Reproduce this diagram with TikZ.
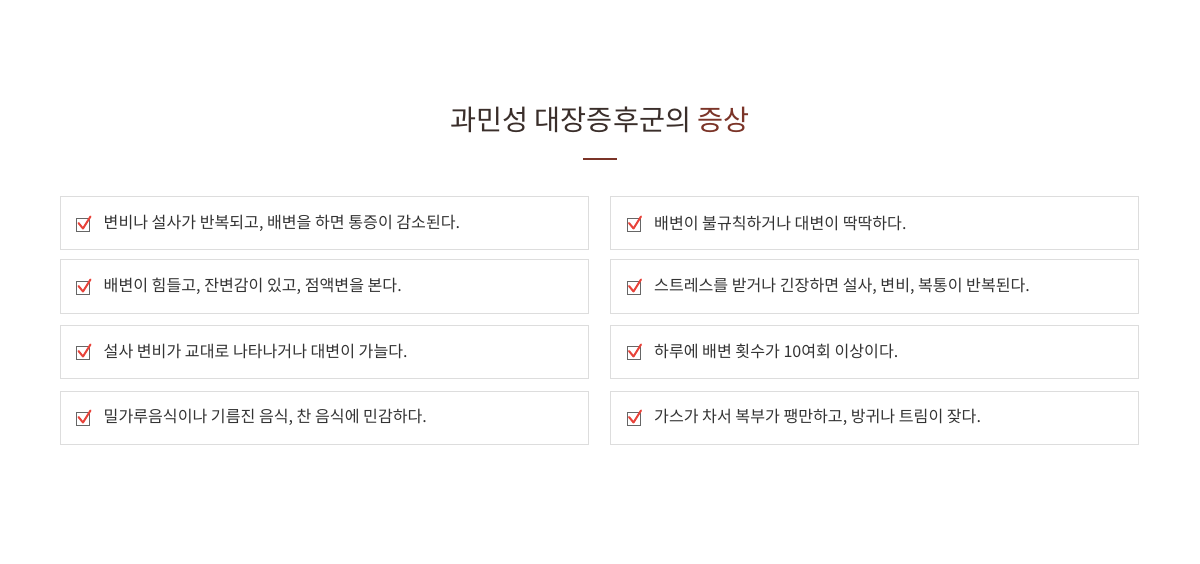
\documentclass[tikz,border=0pt]{standalone}
\usepackage{fontspec}
\setmainfont{Noto Sans CJK KR}
\newfontfamily\krfont{Noto Sans CJK KR}
\definecolor{txt}{HTML}{333333}
\definecolor{ttl}{HTML}{3A2E2A}
\definecolor{accent}{HTML}{7B3428}
\definecolor{boxline}{HTML}{DDDDDD}
\definecolor{chkred}{HTML}{E8433A}
\definecolor{chkgray}{HTML}{666666}
\begin{document}
\begin{tikzpicture}[x=1pt,y=-1pt,
  itembox/.style={draw=boxline,line width=1pt,minimum width=528pt,minimum height=53pt,inner sep=0pt},
  itemtext/.style={anchor=west,text=txt,font=\krfont\fontsize{16.1}{19}\selectfont,inner sep=0pt},
  chkbox/.style={draw=chkgray,line width=1pt,minimum width=13pt,minimum height=13pt,inner sep=0pt}]
\useasboundingbox (0,0) rectangle (1200,564);
\node[text=ttl,font=\krfont\fontsize{28.3}{33}\selectfont,inner sep=0pt] (title) at (600,120) {과민성 대장증후군의 \textcolor{accent}{증상}};
\draw[accent,line width=2pt] (583,159) coordinate (ul1) -- (617,159) coordinate (ul2);
\foreach \n/\cx/\cy/\t in {
  a/324/223.5/{변비나 설사가 반복되고, 배변을 하면 통증이 감소된다.},
  b/324/286.5/{배변이 힘들고, 잔변감이 있고, 점액변을 본다.},
  c/324/351.5/{설사 변비가 교대로 나타나거나 대변이 가늘다.},
  d/324/417.5/{밀가루음식이나 기름진 음식, 찬 음식에 민감하다.},
  e/874.5/223.5/{배변이 불규칙하거나 대변이 딱딱하다.},
  f/874.5/286.5/{스트레스를 받거나 긴장하면 설사, 변비, 복통이 반복된다.},
  g/874.5/351.5/{하루에 배변 횟수가 10여회 이상이다.},
  h/874.5/417.5/{가스가 차서 복부가 팽만하고, 방귀나 트림이 잦다.}} {
  \node[itembox] (box\n) at (\cx,\cy) {};
  \node[chkbox] (chk\n) at ([xshift=23.5pt,yshift=-1.5pt]box\n.west) {};
  \node[itemtext] (txt\n) at ([xshift=44pt,yshift=0pt]box\n.west) {\t};
  \draw[chkred,line width=2pt,line join=round,line cap=round]
    ([xshift=-4.5pt,yshift=2pt]chk\n.center) -- ([xshift=0pt,yshift=-3.5pt]chk\n.center) -- ([xshift=7.5pt,yshift=8.5pt]chk\n.center);
}
\end{tikzpicture}
\end{document}
